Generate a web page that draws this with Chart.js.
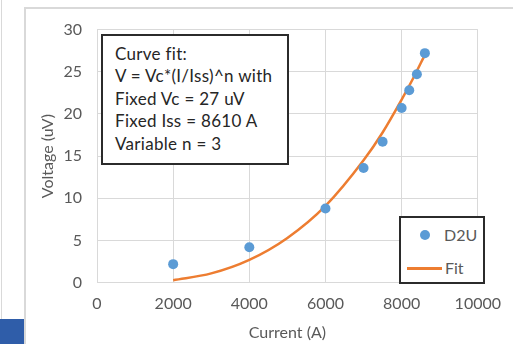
<!DOCTYPE html>
<html>
<head>
<meta charset="utf-8">
<script src="https://cdn.jsdelivr.net/npm/chart.js@4/dist/chart.umd.min.js"></script>
<style>
	body { margin: 0; background: #fff; font-family: Lato, "Open Sans", sans-serif; }
	#wrap { position: relative; width: 513px; height: 344px; overflow: hidden; }
	#myChart { position: absolute; left: 0; top: 0; }
	.edge { position: absolute; background: #d9d9d9; }
	#tab { position: absolute; left: 0; top: 319px; width: 24px; height: 25px; background: #2f5da9; }
	#fitNote {
		position: absolute; left: 101px; top: 34px; width: 172px; height: 127px;
		border: 2px solid #2b2b2b; background: #fff; color: #262626;
		font-size: 17px; letter-spacing: 0.3px; line-height: 22.4px; padding: 0 0 0 12px; box-sizing: content-box;
	}
	#fitNote div:first-child { margin-top: 7px; }
	#legendBox {
		position: absolute; left: 399px; top: 216px; width: 82px; height: 64px;
		border: 2px solid #2b2b2b; background: #fff; color: #595959; font-size: 16px;
	}
	.lgItem { position: absolute; left: 0; height: 20px; line-height: 20px; }
	.lgDot { position: absolute; width: 10px; height: 10px; border-radius: 50%; background: #5b9bd5; }
	.lgLine { position: absolute; height: 3px; background: #ed7d31; }
</style>
</head>
<body>
<div id="wrap">
	<canvas id="myChart" width="513" height="344"></canvas>
	<div class="edge" style="left:1px;top:0;width:1px;height:344px;"></div>
	<div class="edge" style="left:24px;top:7px;width:2px;height:337px;"></div>
	<div class="edge" style="left:24px;top:7px;width:489px;height:2px;"></div>
	<div id="tab"></div>
	<div id="fitNote"></div>
	<div id="legendBox">
		<div class="lgDot" style="left:19px;top:12px;"></div>
		<div class="lgItem" style="left:43px;top:7px;">D2U</div>
		<div class="lgLine" style="left:6px;top:49px;width:35px;"></div>
		<div class="lgItem" style="left:44px;top:40px;">Fit</div>
	</div>
</div>
<script>
// measured points (current in A, voltage in uV)
const currentA = [2000, 4000, 6000, 7000, 7500, 8000, 8200, 8400, 8610];
const voltageUV = [2.2, 4.2, 8.8, 13.6, 16.7, 20.7, 22.8, 24.7, 27.2];

// fit curve
const fitCurrent = [2000, 3000, 4000, 5000, 6000, 7000, 7500, 8000, 8300, 8610];
const fitVoltage = [0.3, 1.1, 2.7, 5.3, 9.1, 14.5, 17.8, 21.7, 24.2, 27.0];

const xTicks = [0, 2000, 4000, 6000, 8000, 10000];
const yTicks = [0, 5, 10, 15, 20, 25, 30];

const noteLines = ['Curve fit:', 'V = Vc*(I/Iss)^n with', 'Fixed Vc = 27 uV', 'Fixed Iss = 8610 A', 'Variable n = 3'];

const gridColor = '#d9d9d9';
const textColor = '#595959';
const fontFamily = 'Lato, "Open Sans", sans-serif';

let notesHTML = '';
noteLines.forEach((line) => {
	notesHTML += '<div>' + line + '</div>';
});
document.getElementById('fitNote').innerHTML = notesHTML;

function toPoints(xs, ys) {
	return xs.map((x, i) => ({ x: x, y: ys[i] }));
}

const ctx = document.getElementById('myChart').getContext('2d');
const myChart = new Chart(ctx, {
	type: 'scatter',
	data: {
		datasets: [
			{
				label: 'D2U',
				data: toPoints(currentA, voltageUV),
				backgroundColor: '#5b9bd5',
				borderColor: '#5b9bd5',
				pointRadius: 5,
				pointBorderWidth: 0,
				order: 1
			},
			{
				label: 'Fit',
				data: toPoints(fitCurrent, fitVoltage),
				showLine: true,
				borderColor: '#ed7d31',
				backgroundColor: '#ed7d31',
				borderWidth: 2.5,
				pointRadius: 0,
				cubicInterpolationMode: 'monotone',
				order: 2
			}
		]
	},
	options: {
		responsive: false,
		animation: false,
		devicePixelRatio: 1,
		layout: {
			padding: { left: 34, top: 29.5, right: 33, bottom: 0 }
		},
		scales: {
			x: {
				type: 'linear',
				min: xTicks[0],
				max: xTicks[xTicks.length - 1],
				afterBuildTicks: (scale) => { scale.ticks = xTicks.map(v => ({ value: v })); },
				afterFit: (scale) => { scale.height = 61.3; },
				grid: { color: gridColor, drawTicks: false },
				border: { color: gridColor },
				ticks: {
					color: textColor,
					font: { family: fontFamily, size: 16 },
					padding: 12,
					maxRotation: 0,
					callback: (v) => String(v)
				},
				title: {
					display: true,
					text: 'Current (A)',
					color: textColor,
					font: { family: fontFamily, size: 16 },
					padding: { top: 0, bottom: 2 }
				}
			},
			y: {
				type: 'linear',
				min: yTicks[0],
				max: yTicks[yTicks.length - 1],
				afterBuildTicks: (scale) => { scale.ticks = yTicks.map(v => ({ value: v })); },
				afterFit: (scale) => { scale.width = 63; },
				grid: { color: gridColor, drawTicks: false },
				border: { color: gridColor },
				ticks: {
					color: textColor,
					font: { family: fontFamily, size: 16 },
					padding: 15
				},
				title: {
					display: true,
					text: 'Voltage (uV)',
					color: textColor,
					font: { family: fontFamily, size: 16 },
					padding: { top: 4, bottom: 0 }
				}
			}
		},
		plugins: {
			legend: { display: false },
			tooltip: { enabled: false }
		}
	}
});
</script>
</body>
</html>
